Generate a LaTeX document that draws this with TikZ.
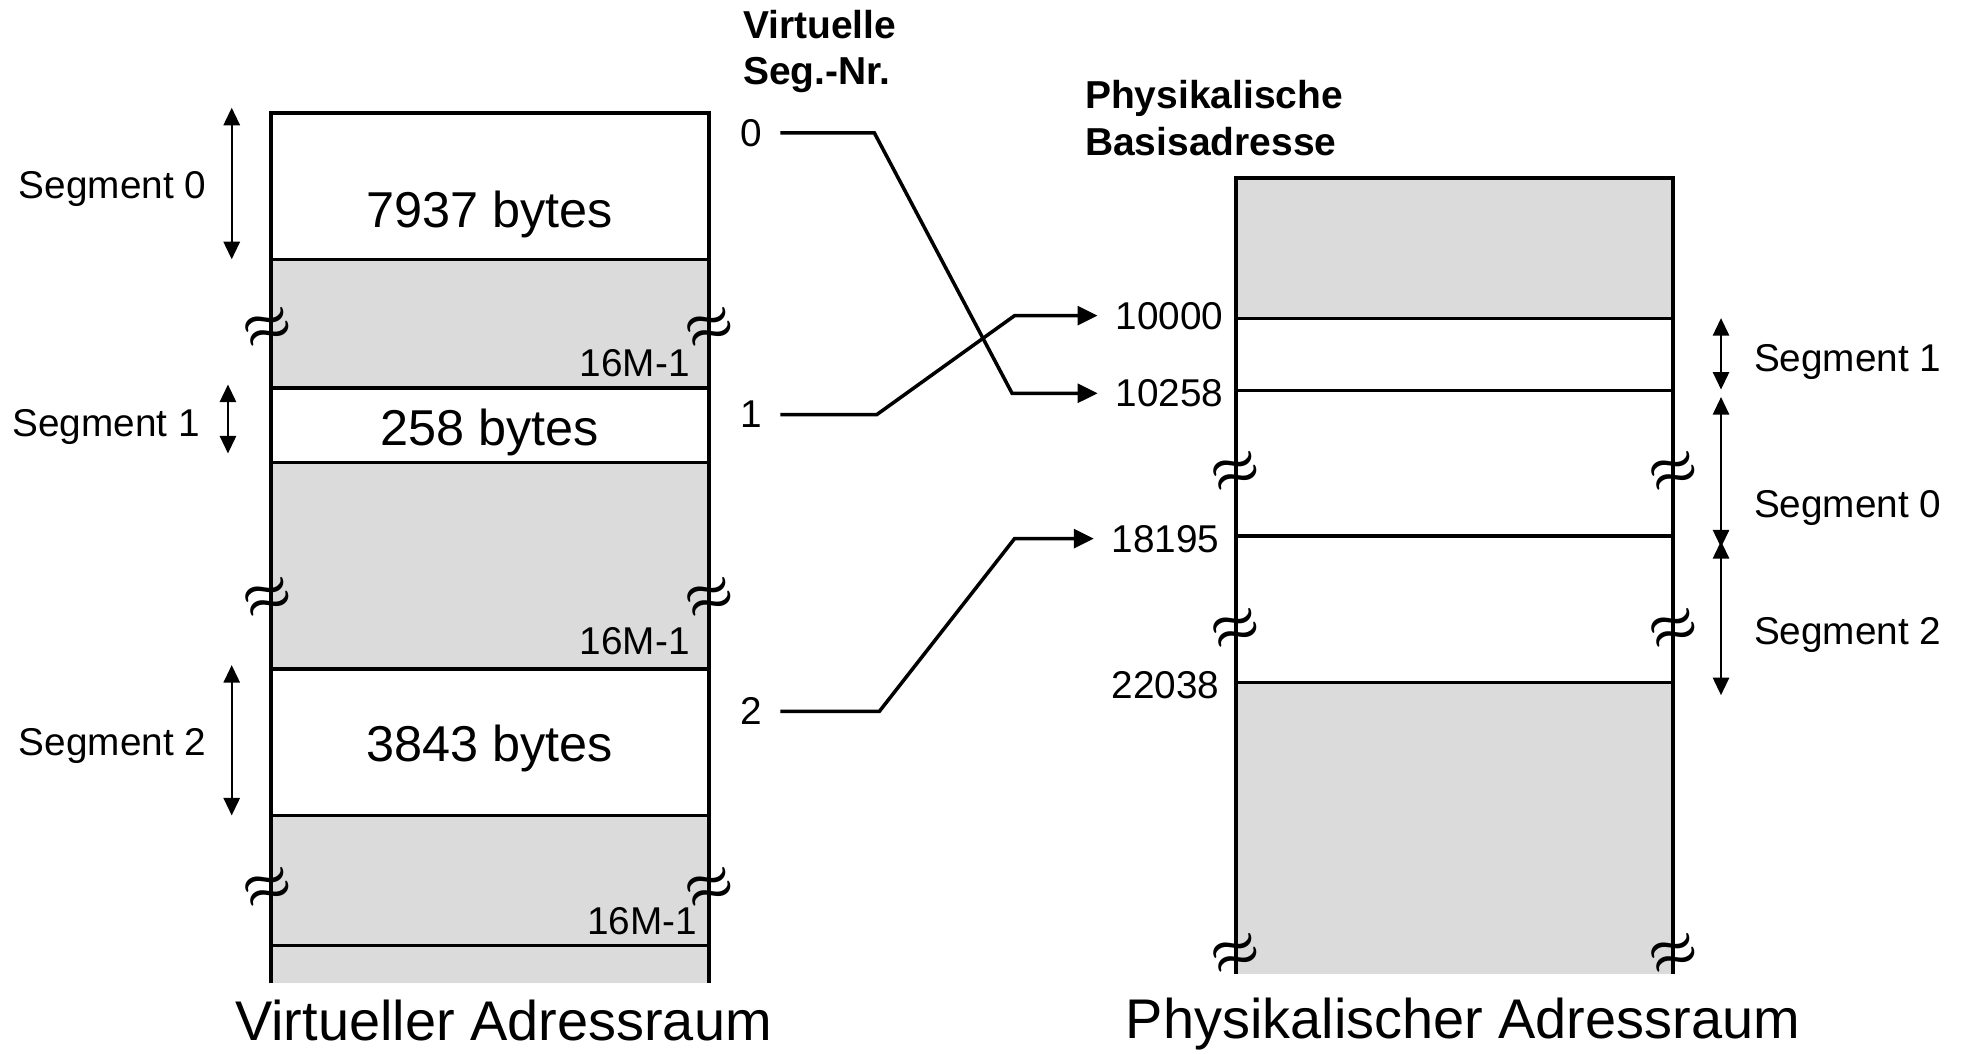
\documentclass[tikz,border=0pt]{standalone}
\usepackage{fontspec}
\setmainfont{Liberation Sans}
\usepackage{amsmath}
\usetikzlibrary{arrows.meta,positioning}
\definecolor{grau}{gray}{0.86}

\begin{document}
\begin{tikzpicture}[
  x=0.2mm, y=-0.2mm,
  rand/.style={line width=1.8pt},
  grenze/.style={line width=1.5pt},
  grenzedick/.style={line width=2pt},
  klein/.style={font=\fontsize{17.6}{21}\selectfont, inner sep=0pt, text depth=0pt},
  kopf/.style={font=\fontsize{17.7}{21}\selectfont\bfseries, align=left, inner sep=0pt},
  inhalt/.style={font=\fontsize{22.9}{26}\selectfont, inner sep=0pt, text depth=0pt},
  titel/.style={font=\fontsize{25.4}{30}\selectfont, inner sep=0pt},
  bruch/.style={font=\fontsize{24}{24}\selectfont\boldmath, rotate=20, inner sep=0pt},
  seta/.style={-{Triangle[length=3.2mm, width=3mm]}, line width=1.6pt},
  masz/.style={{Triangle[length=2.8mm, width=2.6mm]}-{Triangle[length=2.8mm, width=2.6mm]}, line width=0.9pt}
]
\useasboundingbox (0,0) rectangle (1568,841);

\fill[grau] (216,207) rectangle (566,310);
\fill[grau] (216,369) rectangle (566,534);
\fill[grau] (216,651) rectangle (566,785);
\draw[grenze] (216,207) -- (566,207);
\draw[grenzedick] (216,310) -- (566,310);
\draw[grenze] (216,369) -- (566,369);
\draw[grenzedick] (216,534) -- (566,534);
\draw[grenze] (216,651) -- (566,651);
\draw[grenze] (216,755) -- (566,755);
\draw[rand] (216,785) -- (216,90) -- (566,90) -- (566,785);

\node[inhalt] (v0) at (391,167) {7937 bytes};
\node[inhalt] (v1) at (391,341) {258 bytes};
\node[inhalt] (v2) at (391,593) {3843 bytes};
\node[klein, anchor=east] (m0) at (551,290) {16M-1};
\node[klein, anchor=east] (m1) at (551,512) {16M-1};
\node[klein, anchor=east] (m2) at (557,735) {16M-1};

\node[bruch] (bl1) at (214,262) {$\approx$};
\node[bruch] (bl2) at (214,478) {$\approx$};
\node[bruch] (bl3) at (214,709) {$\approx$};
\node[bruch] (bl4) at (567,262) {$\approx$};
\node[bruch] (bl5) at (567,478) {$\approx$};
\node[bruch] (bl6) at (567,709) {$\approx$};

\node[klein, anchor=east] (s0) at (165,148) {Segment 0};
\node[klein, anchor=east] (s1) at (160,338) {Segment 1};
\node[klein, anchor=east] (s2) at (165,592) {Segment 2};
\draw[masz] (185,86) -- (185,207);
\draw[masz] (182,307) -- (182,362);
\draw[masz] (185,531) -- (185,651);

\node[kopf, anchor=north west] (vnr) at (593,8) {Virtuelle\\Seg.-Nr.};
\node[klein] (nr0) at (600,106) {0};
\node[klein] (nr1) at (600,331) {1};
\node[klein] (nr2) at (600,568) {2};

\node[kopf, anchor=north west] (pba) at (866,64) {Physikalische\\Basisadresse};

\fill[grau] (987,142) rectangle (1336,254);
\fill[grau] (987,545) rectangle (1336,778);
\draw[grenze] (987,254) -- (1336,254);
\draw[grenze] (987,312) -- (1336,312);
\draw[grenze] (987,428) -- (1336,428);
\draw[grenze] (987,545) -- (1336,545);
\draw[rand] (987,778) -- (987,142) -- (1336,142) -- (1336,778);

\node[klein, anchor=east] (a10000) at (977,252) {10000};
\node[klein, anchor=east] (a10258) at (977,314) {10258};
\node[klein, anchor=east] (a18195) at (974,430) {18195};
\node[klein, anchor=east] (a22038) at (974,547) {22038};

\node[bruch] (br1) at (987,377) {$\approx$};
\node[bruch] (br2) at (987,502) {$\approx$};
\node[bruch] (br3) at (987,762) {$\approx$};
\node[bruch] (br4) at (1336,377) {$\approx$};
\node[bruch] (br5) at (1336,502) {$\approx$};
\node[bruch] (br6) at (1336,762) {$\approx$};

\node[klein, anchor=west] (p1) at (1400,286) {Segment 1};
\node[klein, anchor=west] (p0) at (1400,402) {Segment 0};
\node[klein, anchor=west] (p2) at (1400,504) {Segment 2};
\draw[masz] (1374,254) -- (1374,311);
\draw[masz] (1374,317) -- (1374,437);
\draw[masz] (1374,432) -- (1374,555);

\draw[seta] ([xshift=2.8mm]nr0.east) -- (698,106) -- (808,314) -- ([xshift=-2.8mm]a10258.west);
\draw[seta] ([xshift=2.8mm]nr1.east) -- (700,331) -- (810,252) -- ([xshift=-2.8mm]a10000.west);
\draw[seta] ([xshift=2.8mm]nr2.east) -- (702,568) -- (810,430) -- ([xshift=-2.8mm]a18195.west);

\node[titel, anchor=base] (vtitel) at (402,831) {Virtueller Adressraum};
\node[titel, anchor=base] (ptitel) at (1168,829) {Physikalischer Adressraum};
\end{tikzpicture}
\end{document}
